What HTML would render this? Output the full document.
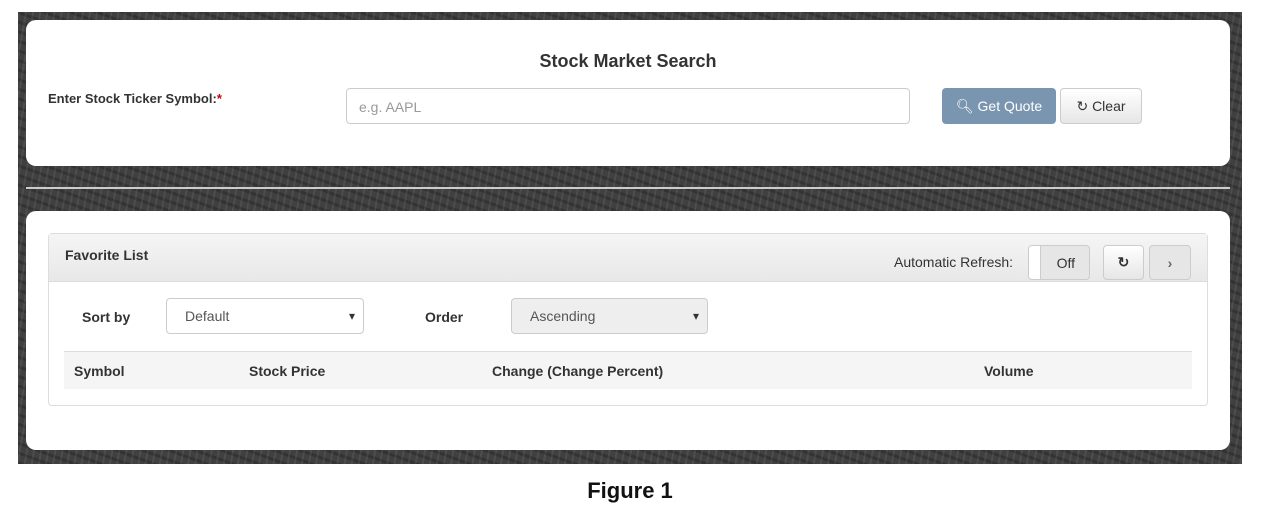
<!DOCTYPE html>
<html><head><meta charset="utf-8"><style>
*{box-sizing:border-box;margin:0;padding:0}
body{width:1274px;height:526px;background:#fff;position:relative;font-family:"Liberation Sans",Arial,sans-serif;overflow:hidden}
.a{position:absolute}
.bg{left:18px;top:12px;width:1224px;height:452px;background:#404040;background-image:repeating-linear-gradient(100deg,rgba(255,255,255,.07) 0 2px,transparent 2px 7px),repeating-linear-gradient(20deg,rgba(0,0,0,.2) 0 3px,transparent 3px 9px)}
.panel{background:#fff;border-radius:10px}
.btn{border:1px solid #ccc;border-radius:4px;background:linear-gradient(#fff,#e6e6e6);font-size:14px;color:#333;display:flex;align-items:center;justify-content:center}
.lbl{font-weight:bold;font-size:14px;color:#333}
.sel{border:1px solid #ccc;border-radius:4px;font-size:14px;color:#555;padding-left:18px;display:flex;align-items:center}
.sel::after{content:"▾";position:absolute;right:8px;font-size:12px;color:#333}
</style></head><body>
<div class="a bg"></div>
<div class="a panel" style="left:26px;top:20px;width:1204px;height:146px"></div>
<div class="a" style="left:0;width:1256px;top:51px;text-align:center;font-weight:bold;font-size:18px;color:#333">Stock Market Search</div>
<div class="a lbl" style="left:48px;top:91px;font-size:13px">Enter Stock Ticker Symbol:<span style="color:#c00">*</span></div>
<div class="a" style="left:346px;top:88px;width:564px;height:36px;border:1px solid #ccc;border-radius:4px;font-size:14px;color:#999;padding:10px 12px">e.g. AAPL</div>
<div class="a btn" style="left:942px;top:88px;width:114px;height:36px;background:#7a95b0;border-color:#7a95b0;color:#fff">&#128269;&#xFE0E; Get Quote</div>
<div class="a btn" style="left:1060px;top:88px;width:82px;height:36px">&#8635; Clear</div>
<div class="a" style="left:26px;top:187px;width:1204px;height:2px;background:#ccc"></div>
<div class="a panel" style="left:26px;top:211px;width:1204px;height:239px"></div>
<div class="a" style="left:48px;top:233px;width:1160px;height:173px;border:1px solid #ddd;border-radius:4px"></div>
<div class="a" style="left:49px;top:234px;width:1158px;height:48px;background:linear-gradient(#f5f5f5,#e8e8e8);border-bottom:1px solid #ddd"></div>
<div class="a lbl" style="left:65px;top:247px;font-size:14px">Favorite List</div>
<div class="a" style="left:894px;top:254px;font-size:14px;color:#333">Automatic Refresh:</div>
<div class="a btn" style="left:1028px;top:245px;width:62px;height:35px;background:#e6e6e6;justify-content:flex-end;padding-right:14px;font-size:14px">Off</div>
<div class="a" style="left:1029px;top:246px;width:12px;height:33px;background:#fff;border-right:1px solid #ccc;border-radius:3px 0 0 3px"></div>
<div class="a btn" style="left:1103px;top:245px;width:41px;height:35px;font-weight:bold">&#8635;</div>
<div class="a btn" style="left:1149px;top:245px;width:42px;height:35px;background:#e6e6e6;color:#666;font-weight:bold">&#8250;</div>
<div class="a lbl" style="left:82px;top:309px">Sort by</div>
<div class="a sel" style="left:166px;top:298px;width:198px;height:36px">Default</div>
<div class="a lbl" style="left:425px;top:309px">Order</div>
<div class="a sel" style="left:511px;top:298px;width:197px;height:36px;background:#eee">Ascending</div>
<div class="a" style="left:64px;top:351px;width:1128px;height:38px;background:#f5f5f5;border-top:1px solid #ddd"></div>
<div class="a lbl" style="left:74px;top:363px">Symbol</div>
<div class="a lbl" style="left:249px;top:363px">Stock Price</div>
<div class="a lbl" style="left:492px;top:363px">Change (Change Percent)</div>
<div class="a lbl" style="left:984px;top:363px">Volume</div>
<div class="a" style="left:0;width:1260px;top:478px;text-align:center;font-weight:bold;font-size:22px;color:#111">Figure 1</div>
</body></html>
